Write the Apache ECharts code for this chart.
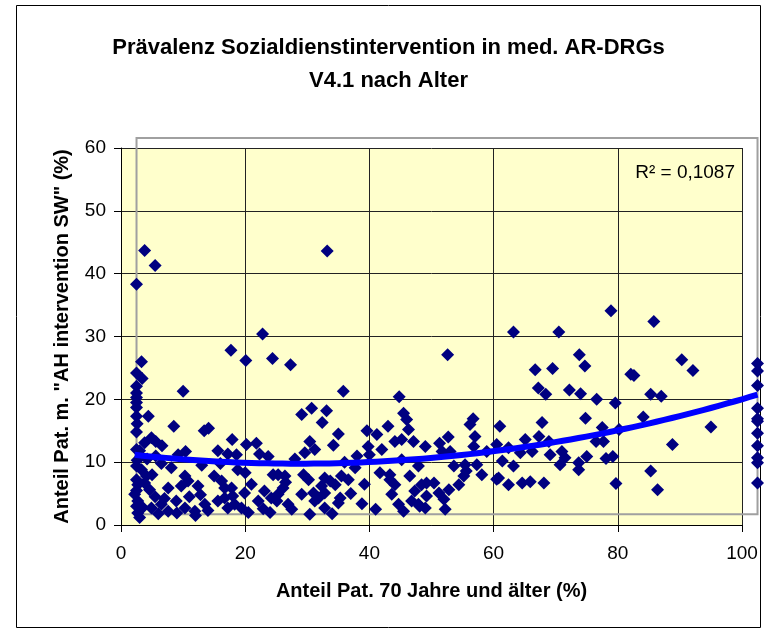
<!DOCTYPE html>
<html>
<head>
<meta charset="utf-8">
<script src="https://cdn.jsdelivr.net/npm/echarts@6/dist/echarts.min.js"></script>
<style>
  html, body { margin: 0; padding: 0; background: #fff; }
  #chart { width: 777px; height: 633px; }
</style>
</head>
<body>
<div id="chart"></div>
<script>
// x = Anteil Pat. 70 Jahre und älter (%), y = Anteil Pat. m. "AH intervention SW" (%)
const ptsLeft = [
  [2.5, 38.3], [3.8, 43.7], [5.5, 41.3],
  [3.3, 26.0], [2.5, 24.2], [3.4, 23.3], [2.5, 22.1], [2.5, 21.0], [2.5, 20.3], [2.5, 19.5], [2.5, 18.7],
  [2.6, 16.1], [2.5, 14.8], [4.4, 17.3], [10.0, 21.3], [8.5, 15.7], [3.8, 13.1], [4.9, 13.9], [5.6, 13.3],
  [6.6, 12.6], [9.2, 11.2], [10.4, 11.7], [2.6, 10.3], [2.5, 9.4], [3.3, 8.8], [4.1, 7.8], [2.7, 6.4],
  [3.8, 6.7], [4.6, 5.6], [2.2, 4.9], [2.7, 3.8], [2.7, 1.9], [3.5, 2.8], [4.9, 2.7], [6.5, 3.3], [7.6, 2.2],
  [7.6, 5.9], [8.1, 9.1], [8.9, 3.8], [9.7, 6.2], [10.3, 7.8], [10.8, 7.0], [10.3, 2.7], [11.9, 2.2],
  [5.5, 4.5], [6.0, 1.8], [3.0, 1.2], [5.0, 8.0], [6.5, 9.8], [7.0, 4.2], [9.0, 1.9], [11.0, 4.5],
  [4.2, 10.5], [5.6, 11.0], [3.0, 11.8], [2.5, 7.2], [2.5, 3.0], [2.5, 5.5], [2.5, 12.0], [2.5, 17.3]
];
const ptsMidLeft = [
  [12.4, 6.2], [13.4, 15.0], [14.1, 15.4], [17.7, 27.8], [20.1, 26.2], [22.8, 30.4], [24.4, 26.5],
  [17.9, 13.6], [20.2, 12.8], [21.8, 13.0], [15.6, 11.8], [17.2, 11.3], [18.6, 11.2], [22.3, 11.3],
  [23.7, 10.9], [20.0, 8.3], [24.5, 8.0], [15.0, 7.8], [16.2, 7.0], [17.8, 5.9], [19.9, 5.1], [23.1, 5.4],
  [24.2, 4.3], [13.5, 3.3], [14.0, 2.3], [15.6, 3.8], [16.7, 4.3], [17.2, 2.7], [18.3, 3.3], [19.4, 2.7],
  [16.7, 5.9], [18.0, 4.6], [22.1, 3.8], [22.9, 2.6], [12.8, 4.8], [21.0, 6.5], [20.5, 2.0], [13.0, 9.5],
  [16.0, 9.8], [18.8, 8.8], [12.0, 1.5], [24.0, 2.0]
];
const ptsMid = [
  [27.3, 25.5], [29.1, 17.6], [30.7, 18.6], [33.1, 18.2], [32.4, 16.3], [35.0, 14.5], [34.2, 12.7],
  [30.4, 13.3], [31.2, 12.0], [29.6, 11.5], [33.2, 43.6], [35.8, 21.3], [39.6, 15.0], [41.2, 14.4],
  [43.0, 15.7], [45.5, 17.8], [46.0, 16.8], [46.3, 15.2], [44.1, 13.3], [45.2, 13.6], [47.1, 13.3],
  [49.0, 12.5], [39.8, 12.5], [40.0, 11.2], [45.2, 10.4], [47.9, 9.4], [44.8, 20.4], [25.3, 8.0],
  [26.4, 7.8], [26.1, 5.9], [29.4, 8.0], [30.2, 7.2], [32.8, 7.5], [33.7, 7.0], [34.5, 6.4], [35.5, 7.8],
  [36.6, 7.2], [37.7, 9.1], [32.3, 6.2], [32.8, 5.1], [31.8, 4.3], [29.1, 4.9], [31.0, 5.1], [31.2, 3.8],
  [26.9, 3.3], [25.1, 3.8], [25.3, 4.9], [30.4, 1.7], [32.8, 2.7], [35.0, 3.5], [35.3, 4.3], [39.2, 6.5],
  [38.8, 3.4], [41.7, 8.3], [43.3, 8.0], [44.1, 6.4], [43.3, 7.2], [47.3, 5.4], [48.4, 6.4], [49.2, 4.6],
  [44.7, 3.3], [45.5, 2.2], [46.8, 3.8], [47.9, 3.3], [49.0, 2.7], [43.6, 4.9], [49.2, 6.7], [48.1, 3.0],
  [26.5, 6.8], [28.0, 10.5], [36.0, 10.0], [38.0, 11.0], [42.0, 12.0], [27.5, 2.5], [34.0, 1.8],
  [37.0, 5.0], [41.0, 2.5], [46.5, 7.8]
];
const ptsMidRight = [
  [52.6, 27.1], [63.2, 30.7], [70.5, 30.7], [73.8, 27.1], [74.7, 25.3], [66.7, 24.7], [69.5, 24.9],
  [67.2, 21.8], [68.4, 20.8], [72.2, 21.5], [74.0, 20.9], [56.7, 16.9], [56.2, 16.0], [57.0, 14.1],
  [61.0, 15.7], [52.7, 14.0], [51.3, 13.0], [56.8, 12.5], [58.9, 11.7], [60.5, 12.8], [62.4, 12.3],
  [67.8, 16.3], [74.8, 17.0], [65.1, 13.6], [66.2, 11.7], [67.3, 14.1], [68.9, 13.3], [69.1, 11.2],
  [71.0, 11.7], [71.5, 10.7], [70.7, 9.6], [73.7, 9.9], [73.7, 8.8], [51.7, 11.7], [53.0, 11.7],
  [53.6, 9.4], [55.4, 9.6], [57.3, 9.6], [61.4, 10.2], [63.2, 9.4], [60.8, 7.5], [55.2, 7.8], [54.4, 6.4],
  [58.1, 8.0], [62.4, 6.4], [64.6, 6.7], [65.9, 6.9], [68.1, 6.7], [50.4, 6.7], [51.2, 5.1], [52.8, 5.6],
  [52.0, 4.1], [52.2, 2.5], [60.5, 7.3], [55.6, 8.6], [64.3, 11.5]
];
const ptsRight = [
  [75.0, 10.9], [78.9, 34.1], [85.8, 32.4], [90.3, 26.3], [92.1, 24.6], [82.1, 24.0], [82.6, 23.8],
  [76.6, 20.0], [79.6, 19.4], [85.3, 20.8], [87.0, 20.5], [84.1, 17.2], [77.5, 15.5], [80.2, 15.2],
  [95.0, 15.6], [88.8, 12.8], [76.5, 13.3], [77.7, 13.3], [78.1, 10.6], [79.2, 10.9], [85.3, 8.6],
  [86.4, 5.6], [79.7, 6.6],
  [102.5, 25.7], [102.5, 24.5], [102.5, 22.2], [102.5, 18.6], [102.5, 16.9], [102.5, 16.5],
  [102.5, 14.6], [102.5, 12.6], [102.5, 10.7], [102.5, 9.9], [102.5, 6.7]
];

const titleLines = ['Prävalenz Sozialdienstintervention in med. AR-DRGs', 'V4.1 nach Alter'];
const xName = 'Anteil Pat. 70 Jahre und älter (%)';
const yName = 'Anteil Pat. m. "AH intervention SW" (%)';
const r2Text = 'R² = 0,1087';

const FONT = '"Liberation Sans", Arial, sans-serif';
const allPts = [].concat(ptsLeft, ptsMidLeft, ptsMid, ptsMidRight, ptsRight);

// polynomial trendline (order 2), least squares like Excel
function fitQuadratic(pts) {
  const s = [0, 0, 0, 0, 0], t = [0, 0, 0];
  pts.forEach(([x, y]) => {
    let p = 1;
    for (let k = 0; k < 5; k++) {
      s[k] += p;
      if (k < 3) t[k] += p * y;
      p *= x;
    }
  });
  const m = [[s[0], s[1], s[2], t[0]], [s[1], s[2], s[3], t[1]], [s[2], s[3], s[4], t[2]]];
  for (let i = 0; i < 3; i++) {
    for (let j = i + 1; j < 3; j++) {
      const f = m[j][i] / m[i][i];
      for (let k = i; k < 4; k++) m[j][k] -= f * m[i][k];
    }
  }
  const c = [0, 0, 0];
  for (let i = 2; i >= 0; i--) {
    let v = m[i][3];
    for (let k = i + 1; k < 3; k++) v -= m[i][k] * c[k];
    c[i] = v / m[i][i];
  }
  return c;
}
const coef = fitQuadratic(allPts);
const xs = allPts.map(p => p[0]);
const xMin = Math.min(...xs), xMax = Math.max(...xs);
const trend = [];
for (let i = 0; i <= 80; i++) {
  const x = xMin + (xMax - xMin) * i / 80;
  trend.push([x, coef[0] + coef[1] * x + coef[2] * x * x]);
}

const chart = echarts.init(document.getElementById('chart'));
chart.setOption({
  backgroundColor: '#fff',
  animation: false,
  textStyle: { fontFamily: FONT },
  title: {
    text: titleLines.join('\n'),
    left: 'center',
    top: 31,
    padding: 0,
    textStyle: { fontFamily: FONT, fontSize: 22, fontWeight: 'bold', color: '#000', lineHeight: 33 }
  },
  grid: {
    left: 121, right: 35, top: 148, bottom: 108,
    show: true, backgroundColor: '#FFFFCC', borderWidth: 0
  },
  xAxis: {
    type: 'value', min: 0, max: 100, interval: 20,
    name: xName, nameLocation: 'middle', nameGap: 56,
    nameTextStyle: { fontFamily: FONT, fontSize: 20, fontWeight: 'bold', color: '#000' },
    axisLine: { show: true, onZero: false, lineStyle: { color: '#000', width: 1 } },
    axisTick: { show: true, length: 7, lineStyle: { color: '#000' } },
    axisLabel: { fontFamily: FONT, fontSize: 19, color: '#000', margin: 19 },
    splitLine: { show: true, lineStyle: { color: '#222', width: 1 } }
  },
  yAxis: {
    type: 'value', min: 0, max: 60, interval: 10,
    name: yName, nameLocation: 'middle', nameGap: 49,
    nameTextStyle: { fontFamily: FONT, fontSize: 20, fontWeight: 'bold', color: '#000' },
    axisLine: { show: true, onZero: false, lineStyle: { color: '#000', width: 1 } },
    axisTick: { show: true, length: 7, lineStyle: { color: '#000' } },
    axisLabel: { fontFamily: FONT, fontSize: 19, color: '#000', margin: 15 },
    splitLine: { show: true, lineStyle: { color: '#222', width: 1 } }
  },
  graphic: [
    {
      id: 'frame', type: 'rect', z: 0,
      shape: { x: 16.5, y: 5.5, width: 744, height: 622 },
      style: { fill: null, stroke: '#000', lineWidth: 1 }
    },
    {
      id: 'r2', type: 'text', z: 10,
      x: 735, y: 173,
      style: { text: r2Text, fill: '#000', font: '19px ' + FONT, textAlign: 'right', textVerticalAlign: 'middle' }
    }
  ],
  series: [
    {
      name: 'Daten',
      type: 'scatter',
      data: allPts,
      symbol: 'diamond',
      symbolSize: 13,
      clip: false,
      z: 3,
      itemStyle: { color: '#000080', opacity: 1 }
    },
    {
      // custom series so the trendline may run past x = 100 like in Excel
      name: 'Trend',
      type: 'custom',
      data: trend,
      clip: false,
      z: 4,
      silent: true,
      renderItem: (params, api) => {
        if (params.dataIndex !== 0) return null;
        return {
          type: 'polyline',
          shape: { points: trend.map(p => api.coord(p)) },
          style: { stroke: '#0000FF', lineWidth: 6, fill: null, lineJoin: 'round' }
        };
      }
    }
  ]
});

// grey data-range box that Excel drew around the points
const p1 = chart.convertToPixel({ gridIndex: 0 }, [2.5, 61.6]);
const p2 = chart.convertToPixel({ gridIndex: 0 }, [102.5, 1.7]);
chart.setOption({
  graphic: [{
    id: 'rangeBox', type: 'rect', z: 2,
    shape: { x: p1[0], y: p1[1], width: p2[0] - p1[0], height: p2[1] - p1[1] },
    style: { fill: null, stroke: '#A0A0A0', lineWidth: 2 }
  }]
});
</script>
</body>
</html>
